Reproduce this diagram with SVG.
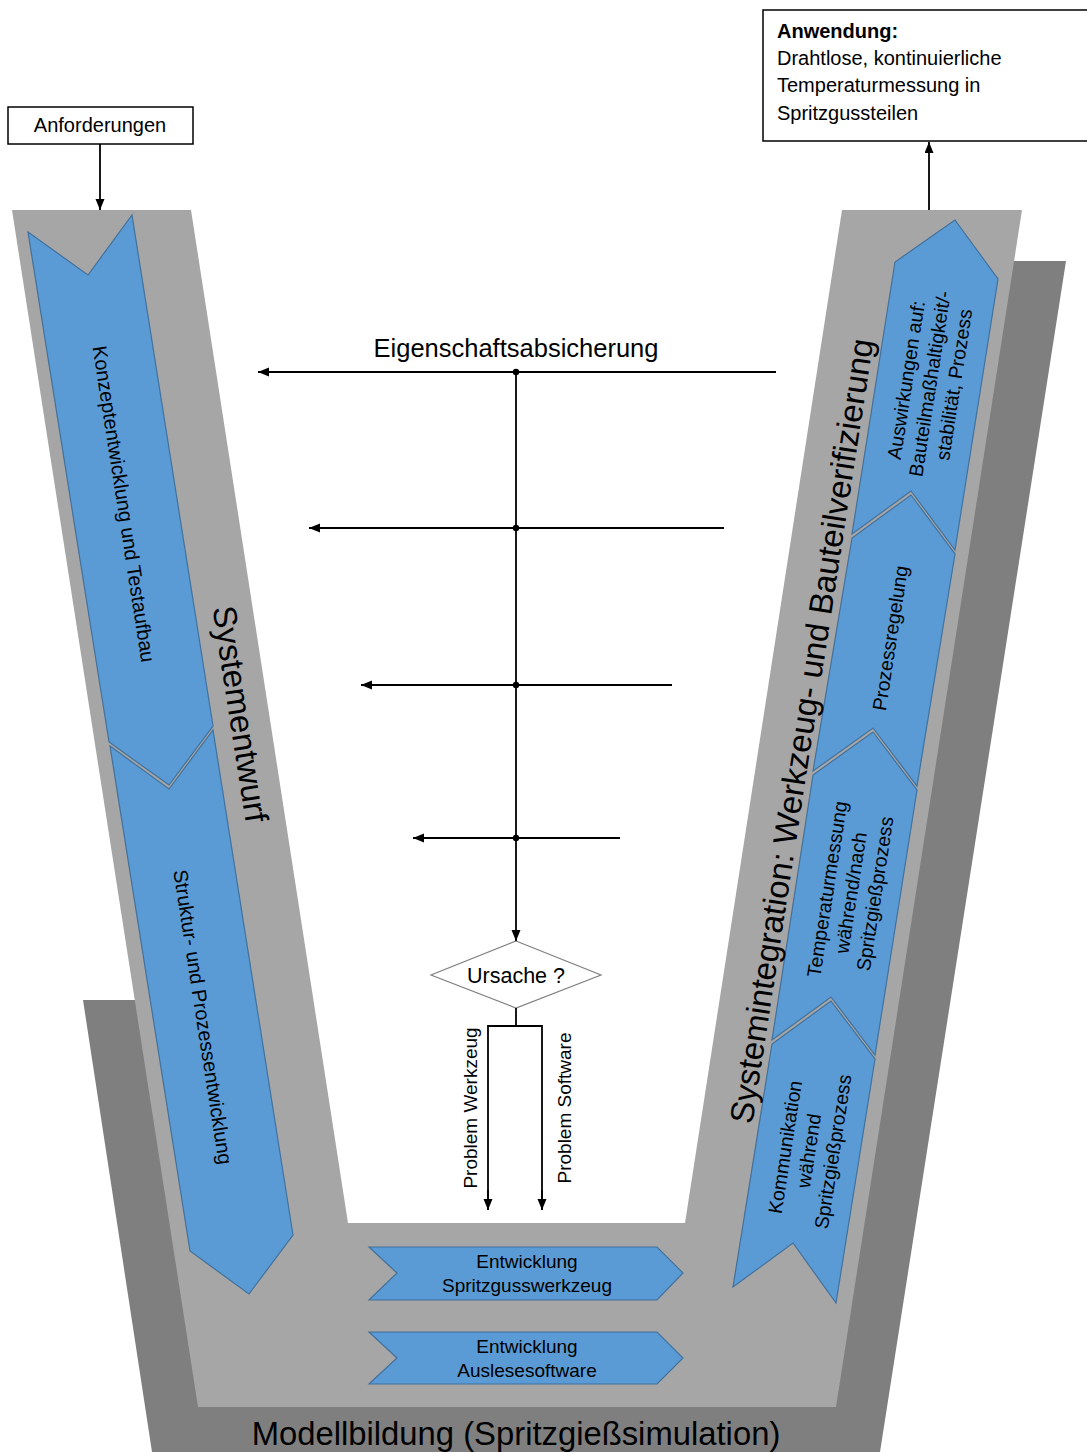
<svg xmlns="http://www.w3.org/2000/svg" width="1087" height="1452" viewBox="0 0 1087 1452">
  <defs>
    <style>
      text { font-family: "Liberation Sans", Arial, sans-serif; fill: #000; }
      .chev { fill: #5b9bd5; stroke: #41719c; stroke-width: 1.2; stroke-linejoin: miter; }
      .box { fill: #fff; stroke: #000; stroke-width: 1.5; }
      .wire { fill: none; stroke: #000; stroke-width: 1.8; }
      .mid { text-anchor: middle; }
      .arm { font-size: 33px; }
      .lbl { font-size: 20px; }
      .rlbl { font-size: 19.5px; }
    </style>
    <marker id="head" markerUnits="userSpaceOnUse" markerWidth="12" markerHeight="10" refX="11" refY="4.5" orient="auto">
      <path d="M0,0 L11,4.5 L0,9 z" fill="#000"/>
    </marker>
  </defs>

  <!-- shadow band behind the V -->
  <polygon id="shadow" points="83,1000 250,1000 250,1300 780,1300 950,400 950,261 1066,261 880,1452 152,1452" fill="#7f7f7f"/>
  <!-- main V band -->
  <polygon id="vband" points="12,210 191,210 348,1223 685,1223 842,210 1022,210 836,1407 198,1407" fill="#a6a6a6"/>

  <!-- left arm: design phase -->
  <g id="konzept">
    <polygon class="chev" points="28,232 88,275 132,215 213,726 169,785 109,742"/>
    <text class="lbl mid" transform="translate(124,504) rotate(81.2)" y="7">Konzeptentwicklung  und  Testaufbau</text>
  </g>
  <g id="struktur">
    <polygon class="chev" points="110,746 169,789 213,730 293,1235 249,1294 190,1251"/>
    <text class="lbl mid" transform="translate(203,1017) rotate(81.2)" y="7">Struktur- und Prozessentwicklung</text>
  </g>
  <g id="systementwurf">
    <text class="arm mid" transform="translate(240,714) rotate(81.2)" y="11">Systementwurf</text>
  </g>

  <!-- right arm: integration phase -->
  <g id="auswirkungen">
    <polygon class="chev" points="955,220 998,279 955,550 911,491 852,534 895,262"/>
    <text class="rlbl mid" transform="translate(930,381) rotate(-81.2)">
      <tspan x="0" y="-17">Auswirkungen  auf:</tspan>
      <tspan x="0" y="7">Bauteilmaßhaltigkeit/-</tspan>
      <tspan x="0" y="31">stabilität,  Prozess</tspan>
    </text>
  </g>
  <g id="prozessregelung">
    <polygon class="chev" points="911,495 955,554 917,786 873,728 813,771 852,538"/>
    <text class="rlbl mid" transform="translate(890,638) rotate(-81.2)" y="7">Prozessregelung</text>
  </g>
  <g id="temperaturmessung">
    <polygon class="chev" points="873,732 917,790 875,1055 831,997 772,1040 813,775"/>
    <text class="rlbl mid" transform="translate(851,890) rotate(-81.2)">
      <tspan x="0" y="-17">Temperaturmessung</tspan>
      <tspan x="0" y="7">während/nach</tspan>
      <tspan x="0" y="31">Spritzgießprozess</tspan>
    </text>
  </g>
  <g id="kommunikation">
    <polygon class="chev" points="831,1001 875,1059 836,1303 793,1243 733,1287 772,1044"/>
    <text class="rlbl mid" transform="translate(809,1148) rotate(-81.2)">
      <tspan x="0" y="-17">Kommunikation</tspan>
      <tspan x="0" y="7">während</tspan>
      <tspan x="0" y="31">Spritzgießprozess</tspan>
    </text>
  </g>
  <g id="systemintegration">
    <text class="arm mid" transform="translate(802,731) rotate(-81.2)" y="11">Systemintegration: Werkzeug- und Bauteilverifizierung</text>
  </g>

  <!-- bottom: component development -->
  <g id="werkzeug">
    <polygon class="chev" points="369,1247 657,1247 683,1273 657,1300 369,1300 397,1273"/>
    <text class="mid" font-size="19" x="527" y="1268">Entwicklung</text>
    <text class="mid" font-size="19" x="527" y="1292">Spritzgusswerkzeug</text>
  </g>
  <g id="software">
    <polygon class="chev" points="369,1332 657,1332 683,1358 657,1384 369,1384 397,1358"/>
    <text class="mid" font-size="19" x="527" y="1353">Entwicklung</text>
    <text class="mid" font-size="19" x="527" y="1377">Auslesesoftware</text>
  </g>
  <g id="modellbildung">
    <text class="mid" font-size="32.8" x="516" y="1445">Modellbildung (Spritzgießsimulation)</text>
  </g>

  <!-- input and output boxes -->
  <g id="anforderungen">
    <rect class="box" x="8" y="107" width="185" height="37"/>
    <text class="lbl mid" x="100" y="132">Anforderungen</text>
  </g>
  <g id="anwendung">
    <rect class="box" x="763" y="10" width="340" height="131"/>
    <text class="lbl" x="777" y="38" font-weight="bold">Anwendung:</text>
    <text class="lbl" x="777" y="65">Drahtlose, kontinuierliche</text>
    <text class="lbl" x="777" y="92">Temperaturmessung  in</text>
    <text class="lbl" x="777" y="120">Spritzgussteilen</text>
  </g>

  <!-- validation flow -->
  <g id="eigenschaftsabsicherung">
    <text class="mid" font-size="25.5" x="516" y="357">Eigenschaftsabsicherung</text>
  </g>
  <g id="ursache">
    <polygon points="516,941 601,975 516,1008 431,975" fill="#fff" stroke="#808080" stroke-width="1.2"/>
    <text class="mid" font-size="21.5" x="516" y="983">Ursache ?</text>
  </g>
  <g id="branch-labels">
    <text font-size="19" class="mid" transform="translate(477,1108) rotate(-90)">Problem Werkzeug</text>
    <text font-size="19" class="mid" transform="translate(571,1108) rotate(-90)">Problem Software</text>
  </g>

  <g id="connectors">
    <line class="wire" x1="100" y1="144" x2="100" y2="210" marker-end="url(#head)"/>
    <line class="wire" x1="929" y1="210" x2="929" y2="142" marker-end="url(#head)"/>

    <line class="wire" x1="776" y1="372" x2="258" y2="372" marker-end="url(#head)"/>
    <line class="wire" x1="724" y1="528" x2="309" y2="528" marker-end="url(#head)"/>
    <line class="wire" x1="672" y1="685" x2="361" y2="685" marker-end="url(#head)"/>
    <line class="wire" x1="620" y1="838" x2="413" y2="838" marker-end="url(#head)"/>
    <line class="wire" x1="516" y1="372" x2="516" y2="941" marker-end="url(#head)"/>
    <g fill="#000">
      <circle cx="516" cy="372" r="3.2"/>
      <circle cx="516" cy="528" r="3.2"/>
      <circle cx="516" cy="685" r="3.2"/>
      <circle cx="516" cy="838" r="3.2"/>
    </g>

    <polyline class="wire" points="516,1008 516,1026"/>
    <polyline class="wire" points="488,1210 488,1026 542,1026 542,1210"/>
    <line class="wire" x1="488" y1="1190" x2="488" y2="1210" marker-end="url(#head)"/>
    <line class="wire" x1="542" y1="1190" x2="542" y2="1210" marker-end="url(#head)"/>
  </g>
</svg>
